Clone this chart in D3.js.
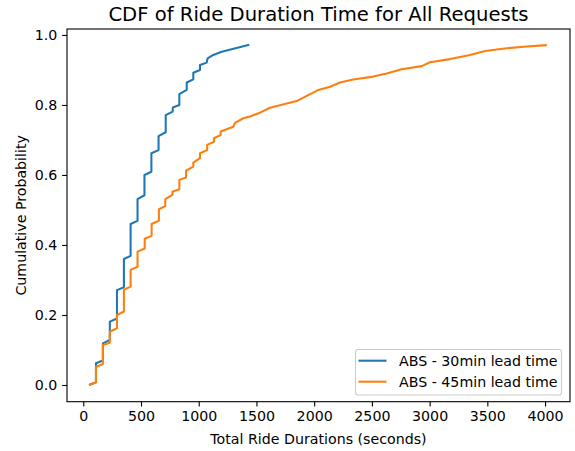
<!DOCTYPE html>
<html>
<head>
<meta charset="utf-8">
<script src="https://cdn.jsdelivr.net/npm/d3@7"></script>
<style>
  html, body { margin: 0; padding: 0; background: #fff; }
  svg { display: block; }
  text { font-family: "DejaVu Sans", sans-serif; fill: #000; }
</style>
</head>
<body>
<svg id="chart" width="575" height="451"></svg>
<script>
// ---- data ----
const seriesNames = ["ABS - 30min lead time", "ABS - 45min lead time"];

const blueDuration = [50, 110, 110, 170, 170, 230, 230, 292, 292, 352, 352, 410, 410, 470, 470, 530, 530, 590, 590, 652, 652, 714, 714, 774, 776, 832, 832, 896, 896, 953, 953, 1011, 1011, 1069, 1077, 1126, 1199, 1438];
const blueProb     = [0.0, 0.008, 0.062, 0.07, 0.119, 0.129, 0.181, 0.19, 0.271, 0.279, 0.36, 0.369, 0.46, 0.469, 0.531, 0.542, 0.6, 0.609, 0.662, 0.671, 0.711, 0.722, 0.771, 0.781, 0.793, 0.8, 0.831, 0.843, 0.864, 0.873, 0.892, 0.9, 0.914, 0.921, 0.933, 0.943, 0.952, 0.972];

const orangeDuration = [50, 110, 110, 170, 170, 230, 230, 292, 292, 352, 352, 410, 410, 470, 470, 532, 532, 592, 592, 655, 655, 710, 710, 772, 772, 832, 832, 890, 890, 953, 953, 1011, 1011, 1073, 1073, 1132, 1132, 1190, 1190, 1300, 1314, 1386, 1444, 1531, 1617, 1848, 2036, 2137, 2224, 2339, 2512, 2628, 2758, 2932, 3003, 3177, 3350, 3480, 3668, 3841, 4015];
const orangeProb     = [0.0, 0.008, 0.052, 0.06, 0.114, 0.121, 0.152, 0.162, 0.2, 0.21, 0.272, 0.281, 0.329, 0.338, 0.381, 0.39, 0.418, 0.426, 0.46, 0.469, 0.502, 0.511, 0.531, 0.543, 0.552, 0.559, 0.586, 0.593, 0.612, 0.624, 0.635, 0.648, 0.662, 0.671, 0.686, 0.695, 0.705, 0.714, 0.724, 0.738, 0.749, 0.762, 0.767, 0.778, 0.792, 0.811, 0.843, 0.852, 0.864, 0.873, 0.881, 0.89, 0.902, 0.911, 0.922, 0.931, 0.943, 0.954, 0.962, 0.967, 0.971];

const xTicks = [0, 500, 1000, 1500, 2000, 2500, 3000, 3500, 4000];
const yTicks = [0.0, 0.2, 0.4, 0.6, 0.8, 1.0];

const titleText = "CDF of Ride Duration Time for All Requests";
const xLabel = "Total Ride Durations (seconds)";
const yLabel = "Cumulative Probability";

const colors = ["#1f77b4", "#ff7f0e"];

// ---- layout ----
const plot = { left: 67, right: 570, top: 29, bottom: 401.7 };
const xLim = [-141, 4216];
const yLim = [-0.0477, 1.017];
const fs = "14.2px";

const svg = d3.select("#chart");

const x = d3.scaleLinear().domain(xLim).range([plot.left, plot.right]);
const y = d3.scaleLinear().domain(yLim).range([plot.bottom, plot.top]);

const series = [
  { name: seriesNames[0], pts: d3.zip(blueDuration, blueProb), color: colors[0] },
  { name: seriesNames[1], pts: d3.zip(orangeDuration, orangeProb), color: colors[1] }
];

// clip
svg.append("defs").append("clipPath").attr("id", "clip")
  .append("rect").attr("x", plot.left).attr("y", plot.top)
  .attr("width", plot.right - plot.left).attr("height", plot.bottom - plot.top);

const line = d3.line().x(d => x(d[0])).y(d => y(d[1]));

svg.append("g").attr("clip-path", "url(#clip)")
  .selectAll("path").data(series).join("path")
  .attr("d", d => line(d.pts))
  .attr("fill", "none")
  .attr("stroke", d => d.color)
  .attr("stroke-width", 2.08)
  .attr("stroke-linejoin", "round")
  .attr("stroke-linecap", "butt");

// axes
const tickLen = 4.86, tickPad = 4.86;
const xAxis = d3.axisBottom(x).tickValues(xTicks).tickFormat(d3.format("d"))
  .tickSizeInner(tickLen).tickSizeOuter(0).tickPadding(tickPad);
const yAxis = d3.axisLeft(y).tickValues(yTicks).tickFormat(d3.format(".1f"))
  .tickSizeInner(tickLen).tickSizeOuter(0).tickPadding(tickPad);

const gx = svg.append("g").attr("transform", `translate(0,${plot.bottom})`).call(xAxis);
const gy = svg.append("g").attr("transform", `translate(${plot.left},0)`).call(yAxis);
[gx, gy].forEach(g => {
  g.select(".domain").remove();
  g.selectAll(".tick line").attr("stroke", "#000").attr("stroke-width", 1.1);
  g.selectAll(".tick text").attr("font-family", "DejaVu Sans, sans-serif")
    .attr("font-size", fs).attr("fill", "#000");
});

// frame
svg.append("rect")
  .attr("x", plot.left).attr("y", plot.top)
  .attr("width", plot.right - plot.left).attr("height", plot.bottom - plot.top)
  .attr("fill", "none").attr("stroke", "#000").attr("stroke-width", 1.1);

// title
svg.append("text")
  .attr("x", (plot.left + plot.right) / 2).attr("y", 20.8)
  .attr("text-anchor", "middle").attr("font-size", "19.6px")
  .text(titleText);

// axis labels
svg.append("text")
  .attr("x", (plot.left + plot.right) / 2).attr("y", 444)
  .attr("text-anchor", "middle").attr("font-size", fs)
  .text(xLabel);

svg.append("text")
  .attr("transform", `translate(26,${(plot.top + plot.bottom) / 2}) rotate(-90)`)
  .attr("text-anchor", "middle").attr("font-size", fs)
  .text(yLabel);

// legend
const lg = svg.append("g");
lg.append("rect")
  .attr("x", 355.5).attr("y", 349.5).attr("width", 206).attr("height", 45.5)
  .attr("rx", 2.8).attr("ry", 2.8)
  .attr("fill", "#fff").attr("fill-opacity", 0.8)
  .attr("stroke", "#cccccc").attr("stroke-width", 1.1);
series.forEach((s, i) => {
  const cy = 360.7 + i * 21;
  lg.append("line").attr("x1", 358.5).attr("x2", 386.5).attr("y1", cy).attr("y2", cy)
    .attr("stroke", s.color).attr("stroke-width", 2.08);
  lg.append("text").attr("x", 399).attr("y", cy).attr("dy", "0.36em")
    .attr("font-size", fs).text(s.name);
});
</script>
</body>
</html>
